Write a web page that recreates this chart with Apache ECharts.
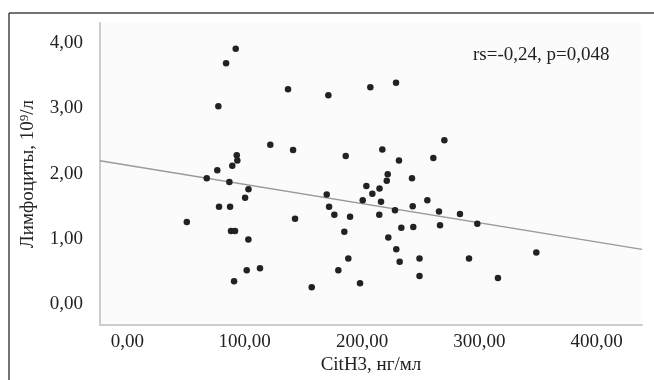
<!DOCTYPE html>
<html>
<head>
<meta charset="utf-8">
<script src="https://cdn.jsdelivr.net/npm/echarts@6/dist/echarts.min.js"></script>
<style>
  html, body { margin: 0; padding: 0; background: #fff; }
  #chart { width: 654px; height: 380px; }
</style>
</head>
<body>
<div id="chart"></div>
<script>
// CitH3, ng/ml
const citH3 = [
  92.3, 84.1, 77.5, 136.9, 171.3, 207.1, 229.0, 121.8, 141.2, 186.1,
  217.3, 231.5, 93.2, 93.7, 89.4, 76.6, 67.6, 86.9, 103.2, 221.9,
  221.1, 242.6, 203.7, 214.9, 78.1, 87.5, 100.3, 88.3, 91.7, 103.1,
  90.9, 101.7, 113.0, 142.9, 169.9, 171.9, 176.4, 189.8, 184.9, 188.3,
  179.8, 157.1, 198.3, 200.6, 208.8, 216.2, 214.7, 228.1, 243.2, 233.5,
  243.7, 222.4, 229.2, 232.1, 249.0, 249.0, 255.7, 265.6, 266.5, 283.5,
  298.3, 291.2, 315.9, 348.6, 270.2, 260.8, 50.6
];
// lymphocytes, 10^9/l
const lymph = [
  3.91, 3.69, 3.03, 3.29, 3.20, 3.32, 3.39, 2.44, 2.36, 2.27,
  2.37, 2.20, 2.28, 2.20, 2.12, 2.05, 1.93, 1.87, 1.76, 1.99,
  1.89, 1.93, 1.81, 1.77, 1.49, 1.49, 1.63, 1.12, 1.12, 0.99,
  0.35, 0.52, 0.55, 1.31, 1.68, 1.49, 1.37, 1.34, 1.11, 0.70,
  0.52, 0.26, 0.32, 1.59, 1.69, 1.57, 1.37, 1.44, 1.50, 1.17,
  1.18, 1.02, 0.84, 0.65, 0.70, 0.43, 1.59, 1.42, 1.21, 1.38,
  1.23, 0.70, 0.40, 0.79, 2.51, 2.24, 1.26
];
// fit line
const fitIntercept = 2.129;
const fitSlope = -0.00294;
const xRange = [-23.4, 438.7];
const yRange = [-0.32, 4.305];
const statText = 'rs=-0,24, p=0,048';

const points = citH3.map((x, i) => [x, lymph[i]]);
const fitLine = xRange.map(x => [x, fitIntercept + fitSlope * x]);

const font = 'Liberation Serif';
const fmt = v => (Math.abs(v - Math.round(v)) < 1e-6 ? v.toFixed(2).replace('.', ',') : '');

const chart = echarts.init(document.getElementById('chart'));
chart.setOption({
  animation: false,
  backgroundColor: '#fff',
  grid: {
    left: 100, right: 12, top: 23, bottom: 54,
    show: true, backgroundColor: '#fbfbfb', borderWidth: 0
  },
  xAxis: {
    type: 'value',
    min: xRange[0], max: xRange[1],
    name: 'CitH3, нг/мл',
    nameLocation: 'middle',
    nameGap: 28,
    nameTextStyle: { fontFamily: font, fontSize: 19, color: '#222' },
    axisLine: { show: true, onZero: false, lineStyle: { color: '#cccccc', width: 2 } },
    axisTick: { show: false },
    splitLine: { show: false },
    axisLabel: {
      fontFamily: font, fontSize: 19, color: '#222', margin: 7,
      showMinLabel: false, showMaxLabel: false,
      formatter: v => (Math.abs(v % 100) < 1e-6 ? v.toFixed(2).replace('.', ',') : '')
    }
  },
  yAxis: {
    type: 'value',
    min: yRange[0], max: yRange[1],
    name: 'Лимфоциты, 10⁹/л',
    nameLocation: 'middle',
    nameGap: 62,
    nameTextStyle: { fontFamily: font, fontSize: 19, color: '#222' },
    axisLine: { show: true, onZero: false, lineStyle: { color: '#cccccc', width: 2 } },
    axisTick: { show: false },
    splitLine: { show: false },
    axisLabel: {
      fontFamily: font, fontSize: 19, color: '#222', margin: 17,
      showMinLabel: false, showMaxLabel: false,
      formatter: fmt
    }
  },
  graphic: [
    { type: 'line', shape: { x1: 9, y1: 13, x2: 654, y2: 13 }, style: { stroke: '#444', lineWidth: 1.5 } },
    { type: 'line', shape: { x1: 9, y1: 13, x2: 9, y2: 380 }, style: { stroke: '#444', lineWidth: 1.5 } },
    {
      type: 'text', left: 473, top: 46,
      style: { text: statText, font: '19px "Liberation Serif"', fill: '#222' }
    }
  ],
  series: [
    {
      type: 'line',
      data: fitLine,
      showSymbol: false,
      lineStyle: { color: '#9a9a9a', width: 1.5 },
      silent: true,
      z: 1
    },
    {
      type: 'scatter',
      data: points,
      symbolSize: 6.5,
      itemStyle: { color: '#222', opacity: 1 },
      z: 2
    }
  ]
});
</script>
</body>
</html>
